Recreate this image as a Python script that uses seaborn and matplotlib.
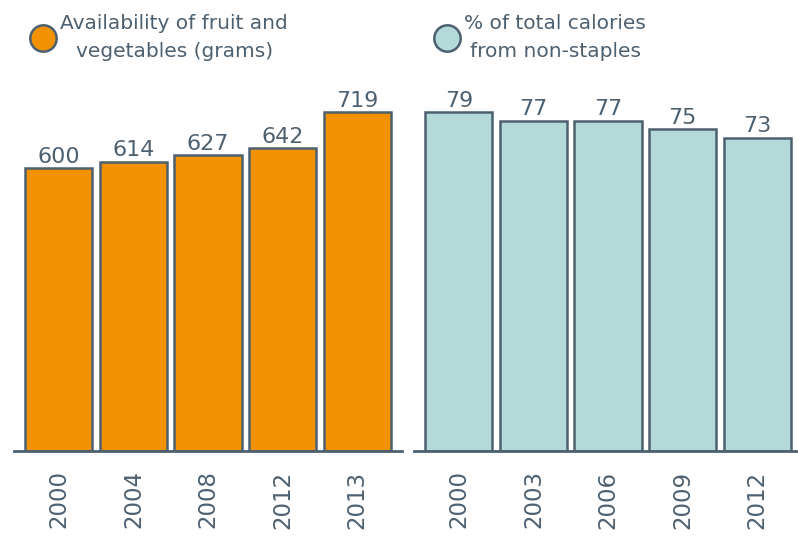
import matplotlib
matplotlib.use('Agg')
import matplotlib.pyplot as plt
import seaborn as sns
import pandas as pd
from matplotlib.lines import Line2D

# data
fv_years = ['2000', '2004', '2008', '2012', '2013']
fv_grams = [600, 614, 627, 642, 719]
cal_years = ['2000', '2003', '2006', '2009', '2012']
cal_pct = [79, 77, 77, 75, 73]

fv_label = 'Availability of fruit and\nvegetables (grams)'
cal_label = '% of total calories\nfrom non-staples'

ORANGE = '#F39200'
TEAL = '#B3D9D9'
SLATE = '#4D6070'

sns.set_theme(style='white')
plt.rcParams['font.family'] = ['DejaVu Sans']
plt.rcParams['text.color'] = SLATE

fig = plt.figure(figsize=(7.98, 5.36), dpi=100)
ax1 = fig.add_axes([14 / 798, 85 / 536, 388 / 798, 361 / 536])
ax2 = fig.add_axes([414 / 798, 85 / 536, 388 / 798, 361 / 536])


def draw_panel(ax, years, values, color, label, legend_x):
    df = pd.DataFrame({'year': years, 'value': values})
    sns.barplot(data=df, x='year', y='value', color=color, saturation=1,
                width=0.9, edgecolor=SLATE, linewidth=1.8, ax=ax)
    ax.bar_label(ax.containers[0], fontsize=16, color=SLATE, padding=1)
    ax.set_xlim(-0.6, 4.6)
    ax.set_ylim(0, max(values) * 361 / 339)
    ax.set_xlabel('')
    ax.set_ylabel('')
    ax.set_yticks([])
    ax.tick_params(axis='x', rotation=90, labelsize=16.5, labelcolor=SLATE,
                   length=0, pad=14)
    for side in ['top', 'right', 'left']:
        ax.spines[side].set_visible(False)
    ax.spines['bottom'].set_color(SLATE)
    ax.spines['bottom'].set_linewidth(2)

    handle = Line2D([], [], marker='o', linestyle='', markersize=19,
                    markerfacecolor=color, markeredgecolor=SLATE,
                    markeredgewidth=1.8)
    leg = fig.legend([handle], [label], loc='upper left',
                     bbox_to_anchor=(legend_x, 1.0), frameon=False,
                     fontsize=14.5, handlelength=1.5, handletextpad=0.1,
                     borderaxespad=0.3, labelspacing=0)
    for t in leg.get_texts():
        t.set_multialignment('center')
        t.set_color(SLATE)
        t.set_linespacing(1.62)


draw_panel(ax1, fv_years, fv_grams, ORANGE, fv_label, 0.0175)
draw_panel(ax2, cal_years, cal_pct, TEAL, cal_label, 0.5237)

fig.savefig('out.png', dpi=100)
